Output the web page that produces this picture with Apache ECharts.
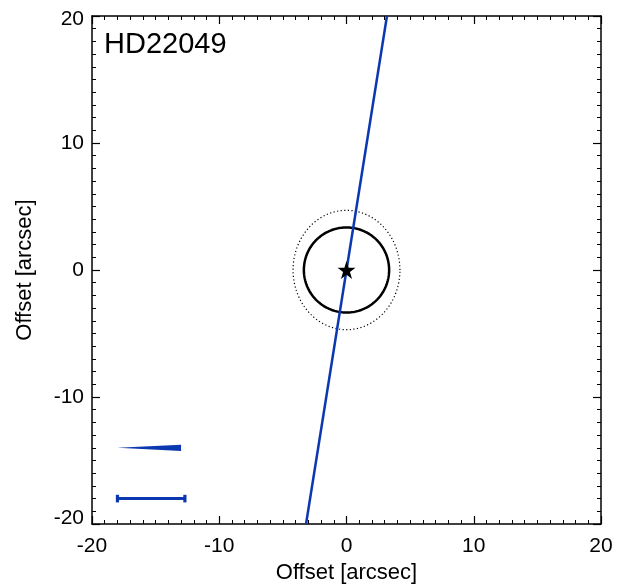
<!DOCTYPE html>
<html>
<head>
<meta charset="utf-8">
<script src="https://cdn.jsdelivr.net/npm/echarts@6/dist/echarts.min.js"></script>
<style>
html,body{margin:0;padding:0;background:#fff;}
#chart{width:625px;height:585px;}
</style>
</head>
<body>
<div id="chart"></div>
<script>
// ---- data ----
const starName = 'HD22049';
const axisTitle = 'Offset [arcsec]';
const axisMin = -20;
const axisMax = 20;
const axisInterval = 10;
const paLine = [[-3.18, -20], [3.18, 20]];
const starPos = [[0, 0]];
const circleCenter = [0, 0];
const circleRadius = 3.35;
const ellipseRadii = [4.2, 4.7];
const wedge = [[-18, -14], [-13, -13.75], [-13, -14.25]];
const errorBar = [[-18, -18], [-12.7, -18]];
const errorCapHalf = 0.3;

const blue = '#0b38b0';
const font = '"Liberation Sans", Arial, Helvetica, sans-serif';

const chart = echarts.init(document.getElementById('chart'));

function ringItem(rx, ry, style) {
  return function (params, api) {
    const pts = [];
    const n = 180;
    for (let i = 0; i <= n; i++) {
      const a = (i / n) * Math.PI * 2;
      pts.push(api.coord([circleCenter[0] + rx * Math.cos(a), circleCenter[1] + ry * Math.sin(a)]));
    }
    return { type: 'polyline', shape: { points: pts }, style: style };
  };
}

const axisCommon = {
  min: axisMin, max: axisMax, interval: axisInterval,
  axisLine: { show: true, onZero: false, lineStyle: { color: '#000', width: 1.5 } },
  axisTick: { show: true, inside: true, length: 8, lineStyle: { color: '#000', width: 1.2 } },
  minorTick: { show: true, splitNumber: 10, length: 4, lineStyle: { color: '#000', width: 1 } },
  splitLine: { show: false },
  minorSplitLine: { show: false }
};

const option = {
  animation: false,
  backgroundColor: '#fff',
  grid: { left: 92, right: 24, top: 16, bottom: 61, outerBoundsMode: 'none', containLabel: false },
  xAxis: [
    Object.assign({}, axisCommon, {
      type: 'value', position: 'bottom',
      name: axisTitle, nameLocation: 'middle', nameGap: 36,
      nameTextStyle: { fontFamily: font, fontSize: 22, color: '#000' },
      axisLabel: { fontFamily: font, fontSize: 21, color: '#000', margin: 12 }
    }),
    Object.assign({}, axisCommon, {
      type: 'value', position: 'top', axisLabel: { show: false }
    })
  ],
  yAxis: [
    Object.assign({}, axisCommon, {
      type: 'value', position: 'left',
      name: axisTitle, nameLocation: 'middle', nameGap: 56,
      nameTextStyle: { fontFamily: font, fontSize: 22, color: '#000' },
      axisLabel: {
        fontFamily: font, fontSize: 21, color: '#000', margin: 8,
        formatter: function (v) {
          if (v === axisMax) return '{top|' + v + '}';
          if (v === axisMin) return '{bot|' + v + '}';
          return '' + v;
        },
        rich: {
          top: { fontFamily: font, fontSize: 21, color: '#000', padding: [7, 0, 0, 0] },
          bot: { fontFamily: font, fontSize: 21, color: '#000', padding: [0, 0, 11, 0] }
        }
      }
    }),
    Object.assign({}, axisCommon, {
      type: 'value', position: 'right', axisLabel: { show: false }
    })
  ],
  graphic: [{
    type: 'text', left: 104, top: 30,
    style: { text: starName, fontFamily: font, fontSize: 29, fill: '#000' }
  }],
  series: [
    {
      type: 'custom', name: 'ellipse', data: [[0, 0]],
      renderItem: ringItem(ellipseRadii[0], ellipseRadii[1], { stroke: '#000', lineWidth: 1.2, lineDash: [1.2, 2.4], fill: null }),
      silent: true, z: 2
    },
    {
      type: 'custom', name: 'circle', data: [[0, 0]],
      renderItem: ringItem(circleRadius, circleRadius, { stroke: '#000', lineWidth: 2.5, fill: null }),
      silent: true, z: 3
    },
    {
      type: 'line', name: 'pa', data: paLine, showSymbol: false, symbol: 'none',
      lineStyle: { color: blue, width: 2.5 }, silent: true, z: 4
    },
    {
      type: 'scatter', name: 'star', data: starPos,
      symbol: 'path://M50,0 L61.2,34.5 L97.6,34.5 L68.2,55.9 L79.4,90.5 L50,69.1 L20.6,90.5 L31.8,55.9 L2.4,34.5 L38.8,34.5 Z',
      symbolSize: 18, itemStyle: { color: '#000', opacity: 1 }, silent: true, z: 5
    },
    {
      type: 'custom', name: 'wedge', data: [[0, 0]],
      renderItem: function (params, api) {
        const pts = wedge.map(p => api.coord(p));
        return { type: 'polygon', shape: { points: pts }, style: { fill: blue } };
      },
      silent: true, z: 4
    },
    {
      type: 'custom', name: 'errorbar', data: [[0, 0]],
      renderItem: function (params, api) {
        const a = api.coord(errorBar[0]);
        const b = api.coord(errorBar[1]);
        const capA1 = api.coord([errorBar[0][0], errorBar[0][1] + errorCapHalf]);
        const capA2 = api.coord([errorBar[0][0], errorBar[0][1] - errorCapHalf]);
        const capB1 = api.coord([errorBar[1][0], errorBar[1][1] + errorCapHalf]);
        const capB2 = api.coord([errorBar[1][0], errorBar[1][1] - errorCapHalf]);
        const st = { stroke: blue, lineWidth: 3 };
        const cap = { stroke: blue, lineWidth: 3.2 };
        return {
          type: 'group', children: [
            { type: 'line', shape: { x1: a[0], y1: a[1], x2: b[0], y2: b[1] }, style: st },
            { type: 'line', shape: { x1: capA1[0], y1: capA1[1], x2: capA2[0], y2: capA2[1] }, style: cap },
            { type: 'line', shape: { x1: capB1[0], y1: capB1[1], x2: capB2[0], y2: capB2[1] }, style: cap }
          ]
        };
      },
      silent: true, z: 4
    }
  ]
};
chart.setOption(option);
</script>
</body>
</html>
